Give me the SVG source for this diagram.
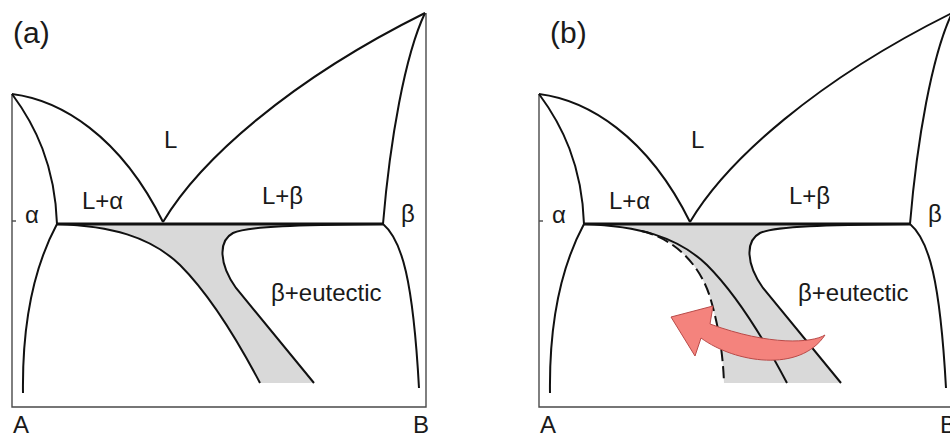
<svg xmlns="http://www.w3.org/2000/svg" width="950" height="438" viewBox="0 0 950 438">
<style>
.box{fill:none;stroke:#4a4a4a;stroke-width:1.4}
.ln{fill:none;stroke:#111;stroke-width:2}
.eut{fill:none;stroke:#111;stroke-width:3}
.gray{fill:#d9d9d9;stroke:none}
.dash{fill:none;stroke:#111;stroke-width:2;stroke-dasharray:12 5}
.lbl{font-family:"Liberation Sans",Arial,sans-serif;font-size:24px;fill:#1a1a1a}
.ax{font-family:"Liberation Sans",Arial,sans-serif;font-size:24px;fill:#1a1a1a}
.pn{font-family:"Liberation Sans",Arial,sans-serif;font-size:30px;fill:#1a1a1a}
.arrow{fill:#f4837d;stroke:#b94a48;stroke-width:1}
</style>
<rect width="950" height="438" fill="#fff"/>

<g id="panel-a">
  <path class="gray" d="M57,224 C110,226 150,236 180,265 C210,295 240,345 260,383 L314,383 L236,288 C219,264 218,241 233,233 C248,226 300,225 383,224 Z"/>
  <path class="box" d="M12,94 L12,407 L426,407 L426,13"/>
  <line class="box" x1="12" y1="221" x2="16" y2="221"/>
  <path class="ln" d="M12,94 C60,100 120,135 163,222"/>
  <path class="ln" d="M12,94 C35,125 55,165 57,224"/>
  <path class="ln" d="M57,224 C35,265 22,320 23,393"/>
  <path class="ln" d="M163,222 C200,160 290,80 425,13"/>
  <path class="ln" d="M425,13 C405,55 390,140 383,224"/>
  <path class="ln" d="M383,224 C402,240 413,280 419,388"/>
  <path class="ln" d="M57,224 C110,226 150,236 180,265 C210,295 240,345 260,383"/>
  <path class="ln" d="M383,224 C300,225 248,226 233,233 C218,241 219,264 236,288 L314,383"/>
  <line class="eut" x1="57" y1="224" x2="383" y2="224"/>
  <text class="pn" x="13" y="43">(a)</text>
  <text class="lbl" x="164" y="148">L</text>
  <text class="lbl" x="82" y="209">L+α</text>
  <text class="lbl" x="262" y="204">L+β</text>
  <text class="lbl" x="25" y="223">α</text>
  <text class="lbl" x="401" y="222">β</text>
  <text class="lbl" x="271" y="301">β+eutectic</text>
  <text class="ax" x="13" y="433">A</text>
  <text class="ax" x="413" y="433">B</text>
</g>

<g id="panel-b" transform="translate(527,0)">
  <path class="gray" d="M57,224 C78,225 97,227 114.5,231 C145,238 172,262 183,297 C192,327 196,355 197,383 L314,383 L236,288 C219,264 218,241 233,233 C248,226 300,225 383,224 Z"/>
  <path class="box" d="M12,94 L12,407 L426,407 L426,13"/>
  <line class="box" x1="12" y1="221" x2="16" y2="221"/>
  <path class="ln" d="M12,94 C60,100 120,135 163,222"/>
  <path class="ln" d="M12,94 C35,125 55,165 57,224"/>
  <path class="ln" d="M57,224 C35,265 22,320 23,393"/>
  <path class="ln" d="M163,222 C200,160 290,80 425,13"/>
  <path class="ln" d="M425,13 C405,55 390,140 383,224"/>
  <path class="ln" d="M383,224 C402,240 413,280 419,388"/>
  <path class="ln" d="M57,224 C110,226 150,236 180,265 C210,295 240,345 260,383"/>
  <path class="ln" d="M383,224 C300,225 248,226 233,233 C218,241 219,264 236,288 L314,383"/>
  <path class="dash" d="M114.5,231 C145,238 172,262 183,297 C192,327 196,355 197,383"/>
  <line class="eut" x1="57" y1="224" x2="383" y2="224"/>
  <path class="arrow" d="M298,335 C285,343 243,346 183,324 L186,306 L144,317 L168,356 L174,338 C208,363 273,373 298,335 Z"/>
  <text class="lbl" x="164" y="148">L</text>
  <text class="lbl" x="82" y="209">L+α</text>
  <text class="lbl" x="262" y="204">L+β</text>
  <text class="lbl" x="25" y="223">α</text>
  <text class="lbl" x="401" y="222">β</text>
  <text class="lbl" x="271" y="301">β+eutectic</text>
  <text class="ax" x="13" y="433">A</text>
  <text class="ax" x="413" y="433">B</text>
</g>
<text class="pn" x="550" y="43">(b)</text>
</svg>
